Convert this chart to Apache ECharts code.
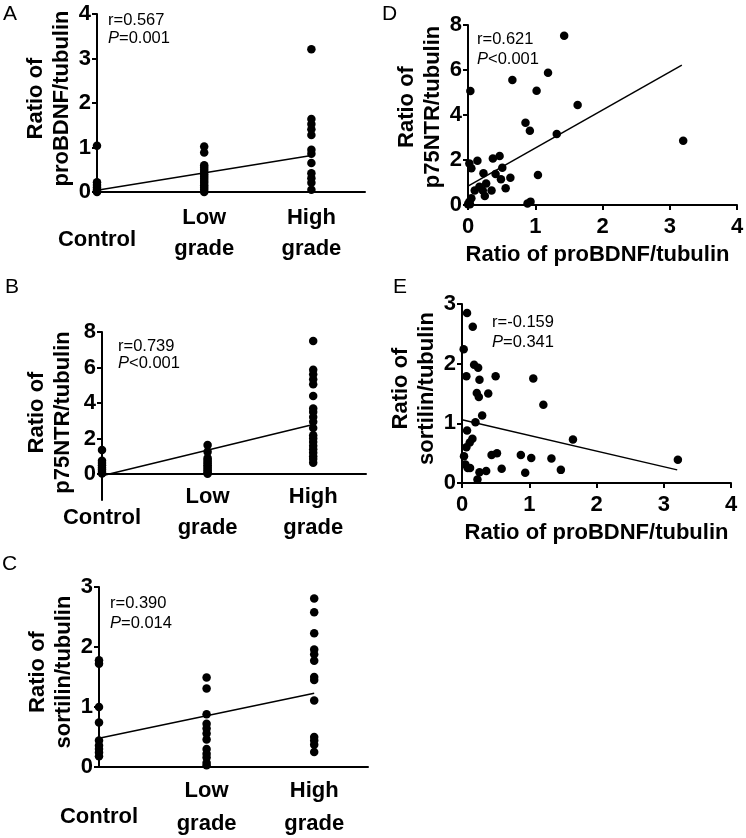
<!DOCTYPE html>
<html><head><meta charset="utf-8">
<script src="https://cdn.jsdelivr.net/npm/echarts@6/dist/echarts.min.js"></script>
<style>html,body{margin:0;padding:0;background:#fff}#c{width:746px;height:838px}</style>
</head><body><div id="c"></div>
<script>
// ---------- data ----------
const groupLabels = ['Control', 'Low\ngrade', 'High\ngrade'];
const groupX = [0, 1, 2];

// Panel A: proBDNF/tubulin by group
const proBDNF_control = [1.04, 0.22, 0.16, 0.1, 0.05, 0.02, 0];
const proBDNF_low = [1.02, 0.89, 0.6, 0.55, 0.5, 0.45, 0.4, 0.35, 0.3, 0.25, 0.2, 0.15, 0.1, 0.05, 0.0];
const proBDNF_high = [3.21, 1.64, 1.53, 1.41, 1.28, 0.95, 0.86, 0.65, 0.42, 0.31, 0.21, 0.05];
const fit_proBDNF = [0.04, 0.82];          // fitted value at Control, High
// Panel B: p75NTR/tubulin by group
const p75_control = [1.35, 0.75, 0.62, 0.5, 0.35, 0.25, 0.12, 0.03];
const p75_low = [1.63, 1.25, 0.9, 0.8, 0.7, 0.6, 0.5, 0.4, 0.3, 0.2, 0.1, 0.02];
const p75_high = [7.49, 5.88, 5.62, 5.34, 5.06, 4.4, 3.69, 3.5, 3.22, 2.94, 2.6, 2.19, 2.0, 1.8, 1.6, 1.4, 1.2, 1.0, 0.85, 0.64];
const fit_p75 = [-0.1, 2.79];
// Panel C: sortilin/tubulin by group
const sort_control = [1.78, 1.72, 1.0, 0.74, 0.44, 0.36, 0.3, 0.24, 0.18];
const sort_low = [1.49, 1.31, 0.88, 0.72, 0.64, 0.56, 0.46, 0.3, 0.22, 0.16, 0.07, 0.03];
const sort_high = [2.81, 2.58, 2.23, 1.96, 1.88, 1.77, 1.5, 1.45, 1.11, 0.5, 0.44, 0.37, 0.25];
const fit_sort = [0.48, 1.23];
// Panel D: p75NTR vs proBDNF
const D_x = [1.43, 1.19, 0.66, 0.035, 1.02, 1.63, 0.855, 0.92, 1.32, 3.2, 0.37, 0.47, 0.14, 0.02, 0.05, 0.51, 0.23, 0.41, 0.63, 0.49, 1.04, 0.27, 0.17, 0.1, 0.22, 0.35, 0.56, 0.25, 0.05, 0.02, 0.03, 0.885, 0.93, 0];
const D_y = [7.52, 5.88, 5.56, 5.07, 5.08, 4.44, 3.66, 3.3, 3.16, 2.86, 2.07, 2.18, 1.97, 1.85, 1.63, 1.66, 1.41, 1.38, 1.21, 1.14, 1.33, 0.96, 0.81, 0.64, 0.64, 0.64, 0.74, 0.4, 0.3, 0.14, 0.03, 0.07, 0.15, 0.03];
const fitD_x = [0, 3.18];
const fitD_y = [0.84, 6.22];
// Panel E: sortilin vs proBDNF
const E_x = [0.075, 0.16, 0.025, 0.18, 0.24, 0.065, 0.26, 0.5, 1.06, 0.22, 0.25, 0.39, 1.21, 0.3, 0.2, 0.075, 0.155, 0.115, 1.65, 0.065, 0.03, 0.44, 0.52, 0.875, 1.03, 1.33, 3.21, 0.05, 0.085, 0.12, 0.26, 0.36, 0.59, 0.94, 1.47, 0.23];
const E_y = [2.85, 2.62, 2.24, 1.98, 1.93, 1.79, 1.73, 1.79, 1.75, 1.51, 1.44, 1.5, 1.31, 1.13, 1.02, 0.88, 0.74, 0.68, 0.73, 0.6, 0.45, 0.47, 0.5, 0.47, 0.42, 0.41, 0.39, 0.31, 0.25, 0.25, 0.18, 0.2, 0.24, 0.17, 0.22, 0.06];
const fitE_x = [0, 3.2];
const fitE_y = [1.06, 0.22];

// tick labels
const ticksA = [0, 1, 2, 3, 4];
const ticksB = [0, 2, 4, 6, 8];
const ticksC = [0, 1, 2, 3];
const ticksD = [0, 2, 4, 6, 8];
const ticksE = [0, 1, 2, 3];
const ticksX = [0, 1, 2, 3, 4];

// ---------- chart ----------
const FONT = '"Liberation Sans", Arial, Helvetica, sans-serif';
const labelStyle = {color: '#000', fontSize: 22, fontWeight: 'bold', fontFamily: FONT};
const lineSt = {color: '#000', width: 2};

function groupPoints(c, l, h) {
  return [].concat(c.map(v => [groupX[0], v]), l.map(v => [groupX[1], v]), h.map(v => [groupX[2], v]));
}
function pairs(xs, ys) { return xs.map((x, i) => [x, ys[i]]); }

function groupXAxis(gi, margin, lh, ctrlLH) {
  return {
    gridIndex: gi, type: 'value', min: 0, max: 2.5,
    axisLine: {show: true, onZero: true, lineStyle: lineSt},
    axisTick: {show: false}, splitLine: {show: false},
    axisLabel: Object.assign({}, labelStyle, {
      margin: margin, lineHeight: lh, customValues: groupX, hideOverlap: false,
      formatter: v => v === 0 ? '{c|' + groupLabels[0] + '}' : groupLabels[v],
      rich: {c: Object.assign({}, labelStyle, {lineHeight: ctrlLH})}
    })
  };
}
function numXAxis(gi, ticks, padR) {
  return {
    gridIndex: gi, type: 'value', min: ticks[0], max: ticks[ticks.length - 1],
    axisLine: {show: true, onZero: true, lineStyle: lineSt},
    axisTick: {show: true, length: 5, customValues: ticks, lineStyle: lineSt},
    splitLine: {show: false},
    axisLabel: Object.assign({}, labelStyle, {margin: 11, customValues: ticks}),
    name: 'Ratio of proBDNF/tubulin', nameLocation: 'middle', nameGap: 39,
    nameTextStyle: Object.assign({}, labelStyle, {padding: [0, padR, 0, 0]})
  };
}
function yAx(gi, ticks, min, name, gap, pad) {
  return {
    gridIndex: gi, type: 'value', min: min, max: ticks[ticks.length - 1],
    axisLine: {show: true, onZero: true, lineStyle: lineSt},
    axisTick: {show: true, length: 5, customValues: ticks, lineStyle: lineSt},
    splitLine: {show: false},
    axisLabel: Object.assign({}, labelStyle, {margin: 6, customValues: ticks}),
    name: name, nameLocation: 'middle', nameGap: gap,
    nameTextStyle: Object.assign({}, labelStyle, {lineHeight: 26, padding: [0, 0, 0, pad]})
  };
}
function scat(gi, data) {
  return {type: 'scatter', xAxisIndex: gi, yAxisIndex: gi, data: data, symbolSize: 8.5,
    itemStyle: {color: '#000', opacity: 1}, silent: true};
}
function fitLine(gi, data) {
  return {type: 'line', xAxisIndex: gi, yAxisIndex: gi, data: data, symbol: 'none', showSymbol: false,
    lineStyle: {color: '#000', width: 1.5}, silent: true, z: 3};
}
function annot(left, top, lh, r, p) {
  return {type: 'text', left: left, top: top, z: 100,
    style: {text: r + '\n{i|P}' + p, fill: '#000', fontSize: 16.5, fontFamily: FONT, lineHeight: lh,
      rich: {i: {fontStyle: 'italic', fontSize: 16.5, fontFamily: FONT, fill: '#000', lineHeight: lh}}}};
}
function letter(left, top, t) {
  return {type: 'text', left: left, top: top, z: 100,
    style: {text: t, fill: '#000', fontSize: 21, fontFamily: FONT, lineHeight: 21}};
}

const grids = [
  {left: 97, top: 14, width: 268, height: 178},
  {left: 102, top: 332, width: 264, height: 168},
  {left: 99, top: 587, width: 269, height: 180},
  {left: 468, top: 25, width: 269, height: 180},
  {left: 462, top: 304, width: 269, height: 179}
].map(g => Object.assign(g, {containLabel: false, outerBoundsMode: 'none'}));

const option = {
  animation: false,
  backgroundColor: '#fff',
  grid: grids,
  xAxis: [groupXAxis(0, 10, 31, 76), groupXAxis(1, -18.5, 31, 73), groupXAxis(2, 7, 33, 86),
          numXAxis(3, ticksX, 10), numXAxis(4, ticksX, 0)],
  yAxis: [
    yAx(0, ticksA, 0, 'Ratio of\nproBDNF/tubulin', 20, 9),
    yAx(1, ticksB, -1.46, 'Ratio of\np75NTR/tubulin', 26, 7),
    yAx(2, ticksC, 0, 'Ratio of\nsortilin/tubulin', 22, 10),
    yAx(3, ticksD, 0, 'Ratio of\np75NTR/tubulin', 22, 16),
    yAx(4, ticksE, 0, 'Ratio of\nsortilin/tubulin', 19, 10)
  ],
  series: [
    scat(0, groupPoints(proBDNF_control, proBDNF_low, proBDNF_high)),
    fitLine(0, [[groupX[0], fit_proBDNF[0]], [groupX[2], fit_proBDNF[1]]]),
    scat(1, groupPoints(p75_control, p75_low, p75_high)),
    fitLine(1, [[groupX[0], fit_p75[0]], [groupX[2], fit_p75[1]]]),
    scat(2, groupPoints(sort_control, sort_low, sort_high)),
    fitLine(2, [[groupX[0], fit_sort[0]], [groupX[2], fit_sort[1]]]),
    scat(3, pairs(D_x, D_y)),
    fitLine(3, pairs(fitD_x, fitD_y)),
    scat(4, pairs(E_x, E_y)),
    fitLine(4, pairs(fitE_x, fitE_y))
  ],
  graphic: [
    letter(3, 4, 'A'), letter(5, 277, 'B'), letter(2, 554, 'C'), letter(382, 4, 'D'), letter(393, 277, 'E'),
    annot(108, 12, 17.5, 'r=0.567', '=0.001'),
    annot(118, 338, 17, 'r=0.739', '<0.001'),
    annot(110, 593, 20, 'r=0.390', '=0.014'),
    annot(477, 29, 20, 'r=0.621', '<0.001'),
    annot(492, 312, 20.6, 'r=-0.159', '=0.341')
  ]
};
const chart = echarts.init(document.getElementById('c'));
chart.setOption(option);
</script>
</body></html>
